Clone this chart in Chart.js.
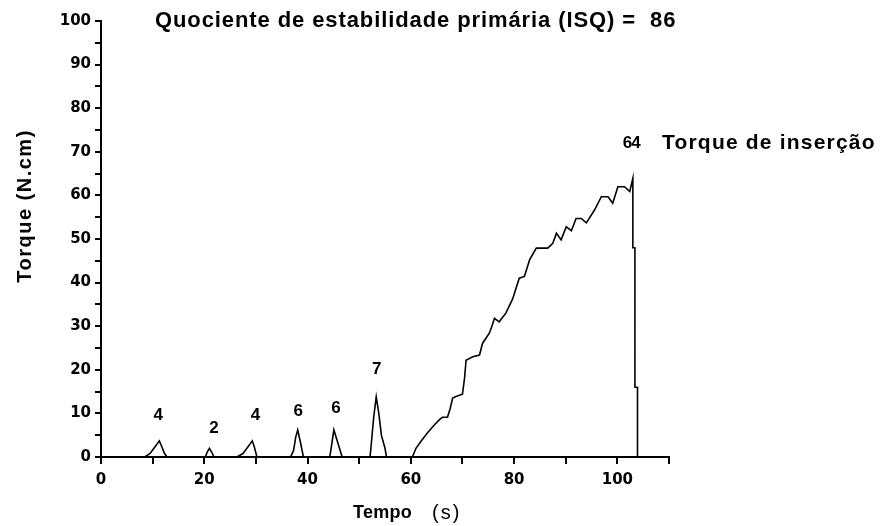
<!DOCTYPE html>
<html>
<head>
<meta charset="utf-8">
<title>Torque de inserção</title>
<script src="https://cdn.jsdelivr.net/npm/chart.js@4.4.1/dist/chart.umd.min.js"></script>
<style>
  body { margin: 0; background: #fff; }
  canvas { display: block; }
</style>
</head>
<body>
<canvas id="myChart" width="882" height="526"></canvas>
<script>
// tempo (s) e torque (N.cm); null = interrupção da linha
var tempo = [
  8.5, 9.5, 10.5, 11.3, 11.8, 12.3, 12.8, null,
  20.2, 20.6, 21.0, 21.4, 21.9, null,
  26.3, 27.5, 28.5, 29.3, 29.7, 30.2, null,
  36.7, 37.3, 37.7, 38.1, 38.6, 39.2, null,
  44.3, 44.7, 45.1, 45.8, 46.7, null,
  52.1, 52.3, 52.8, 53.3, 53.8, 54.3, 55.0, 55.3, null,
  60.3, 61.0, 61.9, 63.2, 64.5, 65.5, 66.1, 67.1, 67.6, 68.1, 69.0, 70.0,
  70.4, 70.7, 72.0, 73.3, 73.9, 75.2, 75.7, 76.2, 77.1, 78.4, 79.7, 81.0,
  82.0, 83.0, 84.3, 86.5, 87.5, 88.2, 89.1, 90.1, 91.1, 92.0, 93.0, 94.0,
  95.6, 96.9, 98.2, 99.1, 100.1, 101.4, 102.4, 103.0, 103.0, 103.4, 103.4, 103.9, 103.9
];
var torque = [
  0, 0.8, 2.4, 3.7, 2.3, 0.8, 0, null,
  0, 1.2, 2.0, 1.2, 0, null,
  0, 0.8, 2.4, 3.7, 2.3, 0, null,
  0, 1.5, 4.5, 6.2, 3.5, 0, null,
  0, 3.0, 6.2, 3.5, 0, null,
  0, 2.4, 9.0, 13.8, 10.0, 5.0, 2.0, 0, null,
  0, 2.0, 3.5, 5.5, 7.3, 8.5, 9.1, 9.1, 11.0, 13.5, 14.0, 14.4,
  18.0, 22.2, 23.0, 23.4, 26.1, 28.4, 30.0, 31.8, 31.0, 33.0, 36.2, 41.0,
  41.4, 45.2, 47.9, 47.9, 49.0, 51.3, 49.8, 52.8, 51.9, 54.7, 54.7, 53.7,
  56.7, 59.7, 59.7, 58.2, 62.0, 62.0, 60.9, 63.9, 48.0, 48.0, 16.0, 16.0, 0
];

// rótulos sobre os picos
var rotuloX = [11.1, 21.9, 29.9, 38.2, 45.5, 53.4, 102.7];
var rotuloY = [9.6, 6.6, 9.6, 10.4, 11.2, 20.0, 72.0];
var rotuloTexto = ['4', '2', '4', '6', '6', '7', '64'];

var tituloGrafico = 'Quociente de estabilidade primária (ISQ) =  86';
var legendaPico = 'Torque de inserção';

var points = tempo.map(function (t, i) {
  return { x: t, y: torque[i] };
});

var fonte = '"DejaVu Sans", sans-serif';
var arial = '"Liberation Sans", Arial, sans-serif';

var textos = {
  id: 'textos',
  afterDraw: function (chart) {
    var ctx = chart.ctx;
    var xs = chart.scales.x;
    var ys = chart.scales.y;
    ctx.save();
    ctx.fillStyle = '#000';

    // titulo
    ctx.font = 'bold 22px ' + arial;
    ctx.letterSpacing = '0.9px';
    ctx.textAlign = 'left';
    ctx.textBaseline = 'alphabetic';
    ctx.fillText(tituloGrafico, 155, 27);

    // rotulos dos picos
    ctx.font = 'bold 17px ' + arial;
    ctx.textAlign = 'center';
    ctx.textBaseline = 'middle';
    for (var i = 0; i < rotuloTexto.length; i++) {
      ctx.letterSpacing = rotuloTexto[i].length > 1 ? '-1px' : '0px';
      ctx.fillText(rotuloTexto[i], xs.getPixelForValue(rotuloX[i]), ys.getPixelForValue(rotuloY[i]));
    }
    ctx.textAlign = 'left';
    ctx.font = 'bold 21px ' + arial;
    ctx.letterSpacing = '1.2px';
    ctx.fillText(legendaPico, 662, ys.getPixelForValue(72.0));

    // titulo eixo x
    ctx.textBaseline = 'alphabetic';
    ctx.letterSpacing = '0.3px';
    ctx.font = 'bold 18px ' + arial;
    ctx.fillText('Tempo', 353, 518);
    ctx.letterSpacing = '2px';
    ctx.font = '20px ' + arial;
    ctx.fillText('(s)', 432, 519);

    // titulo eixo y
    ctx.translate(31, 206);
    ctx.rotate(-Math.PI / 2);
    ctx.textAlign = 'center';
    ctx.letterSpacing = '1.5px';
    ctx.font = 'bold 20px ' + arial;
    ctx.fillText('Torque (N.cm)', 0, 0);
    ctx.restore();
  }
};

var ctx = document.getElementById('myChart');
var myChart = new Chart(ctx, {
  type: 'scatter',
  data: {
    datasets: [{
      data: points,
      showLine: true,
      borderColor: '#000',
      borderWidth: 1.6,
      pointRadius: 0,
      tension: 0
    }]
  },
  options: {
    responsive: false,
    animation: false,
    layout: { padding: { left: 0, right: 213, top: 21, bottom: 0 } },
    plugins: {
      legend: { display: false },
      tooltip: { enabled: false }
    },
    scales: {
      x: {
        type: 'linear',
        min: 0,
        max: 110,
        border: { color: '#000', width: 2 },
        grid: { drawOnChartArea: false, drawTicks: true, tickLength: 7, tickColor: '#000', lineWidth: 2 },
        ticks: {
          stepSize: 10,
          autoSkip: false,
          maxRotation: 0,
          color: '#000',
          padding: 7,
          font: { family: fonte, weight: 'bold', size: 15 },
          callback: function (v) { return v % 20 === 0 ? v : ''; }
        },
        afterFit: function (scale) { scale.height = 69; }
      },
      y: {
        min: 0,
        max: 100,
        border: { color: '#000', width: 2 },
        grid: { drawOnChartArea: false, drawTicks: true, tickLength: 6, tickColor: '#000', lineWidth: 2 },
        ticks: {
          stepSize: 5,
          autoSkip: false,
          color: '#000',
          padding: 4,
          font: { family: fonte, weight: 'bold', size: 15 },
          callback: function (v) { return v % 10 === 0 ? v : ''; }
        },
        afterFit: function (scale) { scale.width = 101; }
      }
    }
  },
  plugins: [textos]
});
</script>
</body>
</html>
